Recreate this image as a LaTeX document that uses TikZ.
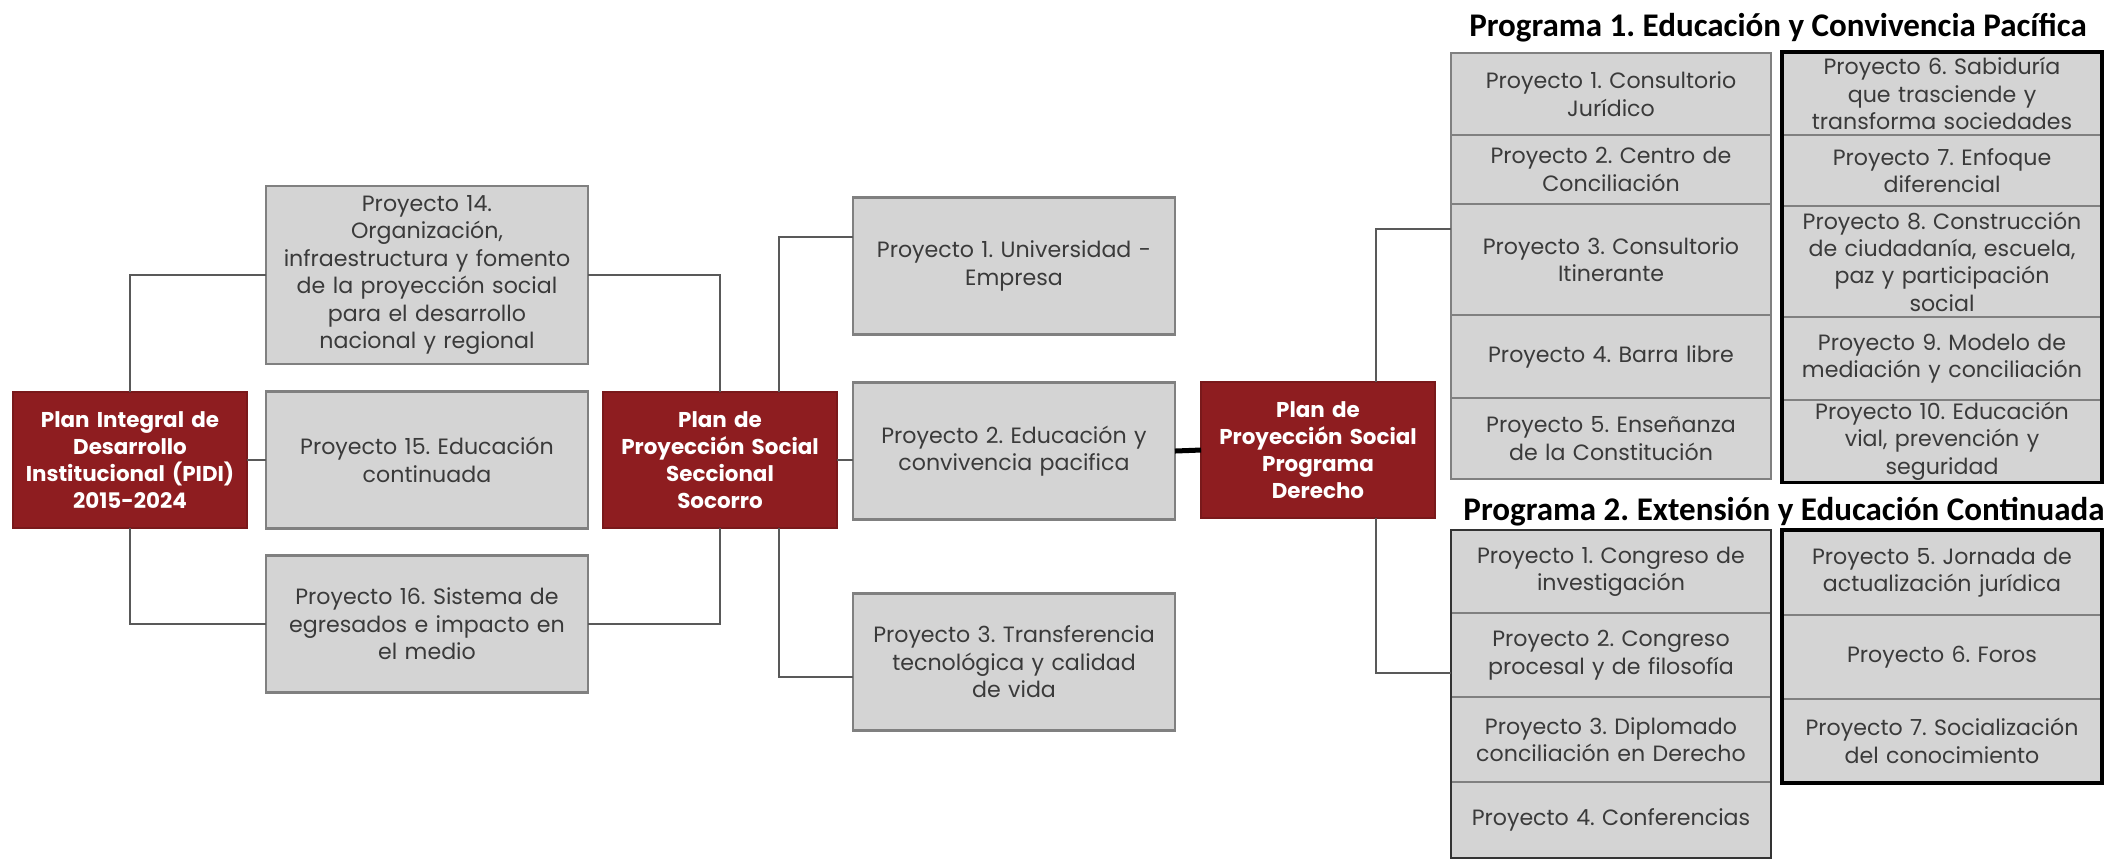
\documentclass[tikz,border=0pt]{standalone}
\usepackage{fontspec}
\setmainfont{Poppins}
\newfontfamily\titlefont{Carlito}
\usetikzlibrary{shapes, positioning}
\frenchspacing

\definecolor{planred}{HTML}{8E1D20}
\definecolor{boxgray}{HTML}{D4D4D4}
\definecolor{edgegray}{HTML}{808080}
\definecolor{textgray}{HTML}{3A3A3A}

\begin{document}
\begin{tikzpicture}[x=0.1mm, y=-0.1mm,
        plan/.style={rectangle, draw=planred!85!black, fill=planred, text=white, align=center, font=\fontsize{6.1}{7.7}\selectfont\bfseries, text width=23mm, minimum height=13.6mm, inner sep=0.2mm, outer sep=0pt},
        proj/.style={rectangle, draw=edgegray, line width=0.25mm, fill=boxgray, text=textgray, align=center, font=\fontsize{6.3}{7.8}\selectfont, text width=31.4mm, minimum height=13.7mm, inner sep=0.4mm, outer sep=0pt},
        cell/.style={proj, text width=31.2mm, inner ysep=0.2mm},
        link/.style={draw=black!65, line width=0.2mm},
        frame/.style={draw=black, line width=0.35mm},
        title/.style={font=\titlefont\bfseries\fontsize{9.4}{11}\selectfont}]
        \useasboundingbox[fill=white] (0,0) rectangle (2118,858);

        % Plans
        \node[plan] (pidi) at (130,460) {Plan Integral de\\Desarrollo\\Institucional (PIDI)\\2015-2024};
        \node[plan] (socorro) at (720,460) {Plan de\\Proyección Social\\Seccional\\Socorro};
        \node[plan] (derecho) at (1318,450) {Plan de\\Proyección Social\\Programa\\Derecho};

        % Projects of the PIDI
        \node[proj, minimum height=17.8mm] (p14) at (427,275) {Proyecto 14.\\Organización,\\infraestructura y fomento\\de la proyección social\\para el desarrollo\\nacional y regional};
        \node[proj] (p15) at (427,460) {Proyecto 15. Educación\\continuada};
        \node[proj] (p16) at (427,624) {Proyecto 16. Sistema de\\egresados e impacto en\\el medio};

        % Projects of Socorro
        \node[proj] (uni) at (1014,266) {Proyecto 1. Universidad -\\Empresa};
        \node[proj] (edu) at (1014,451) {Proyecto 2. Educación y\\convivencia pacifica};
        \node[proj] (trans) at (1014,662) {Proyecto 3. Transferencia\\tecnológica y calidad\\de vida};

        % Programa 1
        \node[title] (prog1) at (1778,28) {Programa 1. Educación y Convivencia Pacífica};
        \node[cell, minimum height=8.2mm, anchor=north west] (c1) at (1451,53) {Proyecto 1. Consultorio\\Jurídico};
        \node[cell, minimum height=6.9mm, below=0pt of c1] (c2) {Proyecto 2. Centro de\\Conciliación};
        \node[cell, minimum height=11.1mm, below=0pt of c2] (c3) {Proyecto 3. Consultorio\\Itinerante};
        \node[cell, minimum height=8.3mm, below=0pt of c3] (c4) {Proyecto 4. Barra libre};
        \node[cell, minimum height=8.1mm, below=0pt of c4] (c5) {Proyecto 5. Enseñanza\\de la Constitución};
        \node[cell, minimum height=8.3mm, anchor=north west] (d6) at (1782,52) {Proyecto 6. Sabiduría\\que trasciende y\\transforma sociedades};
        \node[cell, minimum height=7.1mm, below=0pt of d6] (d7) {Proyecto 7. Enfoque\\diferencial};
        \node[cell, minimum height=11.1mm, below=0pt of d7] (d8) {Proyecto 8. Construcción\\de ciudadanía, escuela,\\paz y participación\\social};
        \node[cell, minimum height=8.3mm, below=0pt of d8] (d9) {Proyecto 9. Modelo de\\mediación y conciliación};
        \node[cell, minimum height=8.1mm, below=0pt of d9] (d10) {Proyecto 10. Educación\\vial, prevención y\\seguridad};
        \draw[frame] (d6.north west) rectangle (d10.south east);

        % Programa 2
        \node[title] (prog2) at (1784,512) {Programa 2. Extensión y Educación Continuada};
        \node[cell, minimum height=8.3mm, anchor=north west] (e1) at (1451,530) {Proyecto 1. Congreso de\\investigación};
        \node[cell, minimum height=8.4mm, below=0pt of e1] (e2) {Proyecto 2. Congreso\\procesal y de filosofía};
        \node[cell, minimum height=8.5mm, below=0pt of e2] (e3) {Proyecto 3. Diplomado\\conciliación en Derecho};
        \node[cell, minimum height=7.6mm, below=0pt of e3] (e4) {Proyecto 4. Conferencias};
        \node[cell, minimum height=8.5mm, anchor=north west] (f5) at (1782,530) {Proyecto 5. Jornada de\\actualización jurídica};
        \node[cell, minimum height=8.4mm, below=0pt of f5] (f6) {Proyecto 6. Foros};
        \node[cell, minimum height=8.4mm, below=0pt of f6] (f7) {Proyecto 7. Socialización\\del conocimiento};
        \draw[frame, draw=black!80, line width=0.25mm] (e1.north west) rectangle (e4.south east);
        \draw[frame] (f5.north west) rectangle (f7.south east);

        % Connections
        \draw[link] (pidi.north) |- (p14.west);
        \draw[link] (pidi.east) -- (p15.west);
        \draw[link] (pidi.south) |- (p16.west);
        \draw[link] (p14.east) -| (socorro.north);
        \draw[link] (p16.east) -| (socorro.south);
        \draw[link] ([xshift=5.9mm]socorro.north) |- ([yshift=2.9mm]uni.west);
        \draw[link] (socorro.east) -- (socorro.east -| edu.west);
        \draw[link] ([xshift=5.9mm]socorro.south) |- ([yshift=-1.5mm]trans.west);
        \draw[line width=0.5mm] (edu.east) -- (derecho.west);
        \draw[link] ([xshift=5.8mm]derecho.north) |- ([yshift=3.1mm]c3.west);
        \draw[link] ([xshift=5.8mm]derecho.south) |- ([yshift=-1.8mm]e2.west);
    \end{tikzpicture}
\end{document}
